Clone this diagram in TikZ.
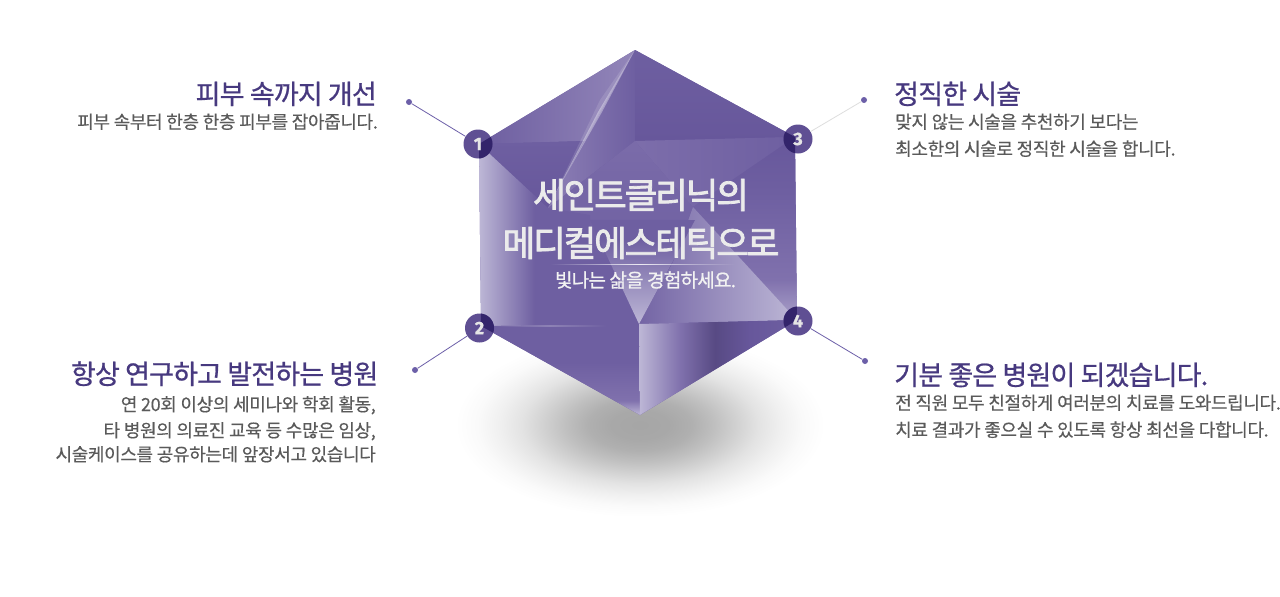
\documentclass[tikz,border=0pt]{standalone}
\usepackage{fontspec}
\usetikzlibrary{fadings}
\newfontfamily\krbody[LetterSpace=-2,FakeBold=0.3]{Noto Sans CJK KR}
\newfontfamily\krhead[LetterSpace=-3,FakeBold=0.7]{Noto Sans CJK KR}
\newfontfamily\krmid[LetterSpace=-6,FakeBold=2.2]{Noto Sans CJK KR}
\newfontfamily\krsub[LetterSpace=-4,FakeBold=0.9]{Noto Sans CJK KR}
\newfontfamily\numf[FakeBold=0.8]{Fira Sans}
\definecolor{gemA}{HTML}{6E5FA1}
\definecolor{gemD}{HTML}{67579B}
\definecolor{gemM}{HTML}{8071AD}
\definecolor{gemL}{HTML}{BDB7D6}
\definecolor{gemB}{HTML}{5F4F93}
\definecolor{gemO}{HTML}{33246B}
\definecolor{headc}{HTML}{47397F}
\definecolor{bodyc}{HTML}{5A5A5A}
\definecolor{linec}{HTML}{6C5FA8}
\pgfdeclareradialshading{blob}{\pgfpoint{0bp}{0bp}}{
 color(0bp)=(black!35); color(4bp)=(black!34); color(7bp)=(black!31); color(10bp)=(black!25);
 color(13bp)=(black!18); color(16bp)=(black!11); color(19bp)=(black!6); color(22bp)=(black!2); color(25bp)=(white); color(50bp)=(white)}
\pgfdeclareverticalshading{lowleft}{100bp}{
 color(0bp)=(gemL); color(25bp)=(gemL); color(33bp)=(gemM); color(54bp)=(gemA); color(100bp)=(gemA)}
\pgfdeclareverticalshading{apex}{100bp}{
 color(0bp)=(gemL); color(25bp)=(gemL); color(42bp)=(gemL!60!gemA); color(66bp)=(gemA); color(100bp)=(gemA)}
\pgfdeclareverticalshading{rightcol}{100bp}{
 color(0bp)=(gemL!70!gemM); color(25bp)=(gemL!70!gemM); color(36bp)=(gemM); color(60bp)=(gemA); color(75bp)=(gemD); color(100bp)=(gemD)}
\pgfdeclarehorizontalshading{lrfacet}{100bp}{
 color(0bp)=(gemL); color(25bp)=(gemL); color(38bp)=(gemM); color(49bp)=(gemD!85!black); color(60bp)=(gemD); color(75bp)=(gemA); color(100bp)=(gemA)}
\pgfdeclarehorizontalshading{leftcol}{100bp}{
 color(0bp)=(gemL); color(25bp)=(gemL); color(50bp)=(gemA); color(100bp)=(gemA)}
\tikzset{x=1pt,y=-1pt,
 headt/.style={inner sep=0,text=headc,font={\krhead\fontsize{27}{27}\selectfont}},
 bodyt/.style={inner sep=0,text=bodyc,font={\krbody\fontsize{18}{18}\selectfont}},
 midt/.style={inner sep=0,text=white!92!black,font={\krmid\fontsize{35.5}{35.5}\selectfont}},
 badge/.style={circle,minimum size=29pt,inner sep=0,fill=gemB},
 tip/.style={circle,minimum size=6pt,inner sep=0,fill=linec},
 lead/.style={line width=0.8pt,draw=linec},
 numt/.style={inner sep=0,text=white!90!black,font={\numf\bfseries\fontsize{18}{18}\selectfont}}
}
\begin{document}
\begin{tikzpicture}
\useasboundingbox (0,0) rectangle (1280,597);
\fill[white] (0,0) rectangle (1280,597);
% shadow
\shade[shading=blob] (640,425) ellipse [x radius=185,y radius=92];
% gem
\coordinate (T) at (635,50);
\coordinate (UR) at (795,137);
\coordinate (LR) at (797,320);
\coordinate (B) at (640,415);
\coordinate (LL) at (481,326);
\coordinate (UL) at (479,144);
\coordinate (C1) at (635,141);
\coordinate (C2) at (639,324);
\coordinate (S) at (548,208);
\coordinate (X) at (693,207);
\begin{scope}
\clip (T)--(UR)--(LR)--(B)--(LL)--(UL)--cycle;
\fill[gemA] (0,0) rectangle (1280,597);
\shade[left color=gemA!85!gemD,right color=gemM!85!white] (T)--(UL)--(585,141)--cycle;
\shade[top color=gemA,bottom color=gemD] (UL)--(585,141)--(S)--cycle;
\shade[left color=gemM!90!white,right color=gemA] (T)--(C1)--(S)--cycle;
\shade[top color=gemA,bottom color=gemD] (T)--(UR)--(C1)--cycle;
\shade[top color=gemM!70!gemA,bottom color=gemA] (C1)--(S)--(600,262)--(670,262)--(X)--cycle;
\shade[left color=gemM!80!gemA,right color=gemA] (C1)--(UR)--(X)--cycle;
\shade[shading=rightcol] (UR)--(LR)--(X)--cycle;
% lower right light facet
\shade[left color=gemA!70!gemM,right color=gemL] (X)--(LR)--(C2)--(673,262)--cycle;
% left column
\shade[shading=leftcol] (UL)--(LL)--(590,326)--(590,215)--(S)--cycle;
% apex triangle
\shade[shading=apex] (C2)--(590,220)--(695,220)--cycle;
% lower facets
\shade[shading=lowleft] (LL)--(C2)--(B)--cycle;
\shade[shading=lrfacet] (C2)--(LR)--(B)--cycle;
\fill[white,path fading=west,opacity=.22] (493,324.5) rectangle (550,326.5);
\fill[white,path fading=east,opacity=.22] (550,324.5) rectangle (607,326.5);
% bright streak
\fill[white,opacity=.12] (T)--(610,92)--(548,208)--(600,100)--cycle;
\fill[white,opacity=.35] (T)--(602,112)--(553,198)--(598,112)--cycle;
\end{scope}
% separator under heading
\fill[white,path fading=east,opacity=.85] (640,264) rectangle (735,265);
\fill[white,path fading=west,opacity=.85] (550,264) rectangle (640,265);
% centre text
\node[midt] (m1) at (641,195) {세인트클리닉의};
\node[midt] (m2) at (641,243) {메디컬에스테틱으로};
\node[inner sep=0,text=white!95!black,font={\krsub\fontsize{19}{19}\selectfont}] (m3) at (645.5,280) {빛나는 삶을 경험하세요.};
% badges
\node[tip] (d1) at (409,102) {};
\node[tip] (d2) at (415,370) {};
\node[tip] (d3) at (864,100) {};
\node[tip] (d4) at (865,361) {};
\node[badge] (n1) at (478,144) {};
\node[badge] (n2) at (479.5,328) {};
\node[badge] (n3) at (798,139) {};
\node[badge] (n4) at (798,321) {};
\begin{scope}
\clip (T)--(UR)--(LR)--(B)--(LL)--(UL)--cycle;
\fill[gemO] (n1) circle (14.5);
\fill[gemO] (n2) circle (14.5);
\fill[gemO] (n3) circle (14.5);
\fill[gemO] (n4) circle (14.5);
\end{scope}
\node[numt] (t1) at (n1) {1};
\node[numt] (t2) at (n2) {2};
\node[numt] (t3) at (n3) {3};
\node[numt] (t4) at (n4) {4};
\draw[lead] (d1) -- (n1);
\draw[lead] (d2) -- (n2);
\draw[line width=0.8pt,draw=black!13] (d3) -- (n3);
\draw[lead] (d4) -- (n4);
% left texts
\node[headt,anchor=base east] (h1) at (377,104) {피부 속까지 개선};
\node[bodyt,anchor=base east] (b1) at (378,128.5) {피부 속부터 한층 한층 피부를 잡아줍니다.};
\node[headt,anchor=base east] (h2) at (378.5,384) {항상 연구하고 발전하는 병원};
\node[bodyt,anchor=base east] (b2a) at (376,411) {연 20회 이상의 세미나와 학회 활동,};
\node[bodyt,anchor=base east] (b2b) at (376,437) {타 병원의 의료진 교육 등 수많은 임상,};
\node[bodyt,anchor=base east] (b2c) at (376,461) {시술케이스를 공유하는데 앞장서고 있습니다};
% right texts
\node[headt,anchor=base west] (h3) at (894,104) {정직한 시술};
\node[bodyt,anchor=base west] (b3a) at (895,128.5) {맞지 않는 시술을 추천하기 보다는};
\node[bodyt,anchor=base west] (b3b) at (895,155.5) {최소한의 시술로 정직한 시술을 합니다.};
\node[headt,anchor=base west] (h4) at (894,385) {기분 좋은 병원이 되겠습니다.};
\node[bodyt,anchor=base west] (b4a) at (895,409.5) {전 직원 모두 친절하게 여러분의 치료를 도와드립니다.};
\node[bodyt,anchor=base west] (b4b) at (895,436.5) {치료 결과가 좋으실 수 있도록 항상 최선을 다합니다.};
\end{tikzpicture}
\end{document}
